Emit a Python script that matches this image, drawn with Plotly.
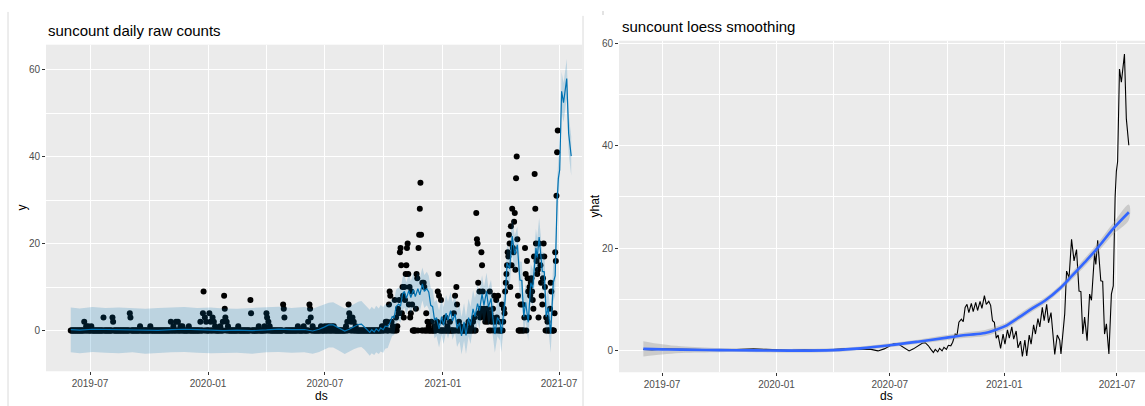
import pandas as pd
import plotly.graph_objects as go

W, H = 1145, 406

# ---------------- data ----------------
yhat_dates = [
    "2019-06-01", "2019-06-15", "2019-07-05", "2019-07-25", "2019-08-15", "2019-09-05", "2019-09-25",
    "2019-10-15", "2019-11-05", "2019-11-25", "2019-12-15", "2020-01-05", "2020-01-25", "2020-02-15",
    "2020-03-10", "2020-04-01", "2020-04-20", "2020-05-10", "2020-05-30", "2020-06-12", "2020-06-22",
    "2020-06-30", "2020-07-07", "2020-07-14", "2020-07-22", "2020-08-01", "2020-08-08", "2020-08-15",
    "2020-08-22", "2020-08-27", "2020-09-01", "2020-09-05", "2020-09-09", "2020-09-12", "2020-09-16",
    "2020-09-19", "2020-09-23", "2020-09-26", "2020-09-30", "2020-10-03", "2020-10-07", "2020-10-10",
    "2020-10-14", "2020-10-17", "2020-10-20", "2020-10-24", "2020-10-27", "2020-10-30", "2020-11-02",
    "2020-11-05", "2020-11-09", "2020-11-12", "2020-11-16", "2020-11-19", "2020-11-23", "2020-11-26",
    "2020-11-30", "2020-12-03", "2020-12-07", "2020-12-10", "2020-12-13", "2020-12-16", "2020-12-19",
    "2020-12-22", "2020-12-26", "2020-12-30", "2021-01-02", "2021-01-06", "2021-01-09", "2021-01-13",
    "2021-01-16", "2021-01-20", "2021-01-23", "2021-01-27", "2021-01-30", "2021-02-03", "2021-02-06",
    "2021-02-10", "2021-02-13", "2021-02-17", "2021-02-20", "2021-02-24", "2021-02-27", "2021-03-03",
    "2021-03-06", "2021-03-10", "2021-03-13", "2021-03-17", "2021-03-20", "2021-03-23", "2021-03-27",
    "2021-03-31", "2021-04-02", "2021-04-05", "2021-04-08", "2021-04-11", "2021-04-15", "2021-04-19",
    "2021-04-23", "2021-04-27", "2021-05-01", "2021-05-04", "2021-05-07", "2021-05-10", "2021-05-14",
    "2021-05-18", "2021-05-21", "2021-05-26", "2021-05-28", "2021-05-31", "2021-06-05", "2021-06-08",
    "2021-06-11", "2021-06-14", "2021-06-18", "2021-06-22", "2021-06-25", "2021-06-28", "2021-06-30",
    "2021-07-02", "2021-07-05", "2021-07-08", "2021-07-13", "2021-07-16", "2021-07-20",
]
yhat = [
    0.2, 0.1, 0.3, 0.25, 0.15, 0.1, 0.0,
    0.05, 0.2, 0.3, 0.2, 0.1, 0.0, 0.1,
    0.0, 0.15, 0.35, 0.2, 0.25, -0.1, 0.3,
    0.8, 1.3, 1.3, 0.7, -0.1, 0.3, 0.9,
    1.4, 1.5, 0.9, 0.2, -0.4, 0.2, -0.3,
    0.4, -0.1, 0.6, 0.2, 1.0, 0.9, 1.6,
    3.2, 3.0, 5.5, 6.1, 5.6, 8.4, 9.0,
    7.4, 9.2, 7.6, 9.4, 7.8, 9.6, 8.2,
    10.7, 9.0, 9.6, 8.8, 5.8, 5.5, 2.4,
    3.0, 0.4, 3.2, 1.2, 4.0, 2.4, 4.6,
    2.2, 3.8, 0.5, 1.8, -1.2, 2.0, -1.1,
    3.0, 1.2, 5.0, 3.2, 6.2, 4.6, 8.4,
    5.8, 9.0, 5.4, 7.4, 2.8, -0.8, 3.0,
    2.0, -0.7, 4.0, 7.1, 15.5, 14.2, 21.7,
    17.5, 19.7, 11.6, 11.5, 3.2, 6.5, 1.9,
    11.0, 9.8, 19.0, 16.8, 21.5, 13.6, 13.5,
    3.2, 5.2, -0.7, 11.0, 12.6, 30.0, 35.0,
    36.9, 55.0, 52.4, 57.9, 45.3, 40.1,
]
yhat_lower = [
    -5.0, -5.2, -4.9, -5.1, -5.2, -5.0, -5.3,
    -5.1, -5.0, -4.9, -5.1, -5.2, -5.2, -5.1,
    -5.3, -5.0, -4.9, -5.1, -5.0, -5.3, -4.9,
    -4.4, -3.9, -3.9, -4.5, -5.4, -4.9, -4.3,
    -3.9, -3.8, -4.4, -5.1, -5.8, -5.2, -5.6,
    -5.0, -5.4, -4.8, -5.1, -4.2, -4.0, -3.0,
    -1.2, -1.0, 1.6, 2.3, 1.8, 4.6, 5.3,
    3.7, 5.5, 3.9, 5.6, 4.0, 5.8, 4.4,
    6.9, 5.2, 5.8, 4.9, 1.8, 1.4, -1.8,
    -1.2, -3.9, -1.0, -3.1, -0.3, -1.9, 0.3,
    -2.1, -0.5, -3.8, -2.5, -5.5, -2.3, -5.4,
    -1.3, -3.1, 0.7, -1.1, 1.9, 0.3, 4.1,
    1.5, 4.7, 1.1, 3.1, -1.5, -5.1, -1.3,
    -2.3, -5.0, -0.3, 2.8, 11.2, 9.9, 17.4,
    13.2, 15.4, 7.3, 7.2, -1.1, 2.2, -2.4,
    6.7, 5.5, 14.6, 12.4, 17.1, 9.2, 9.1,
    -1.2, 0.8, -5.1, 6.6, 8.2, 25.5, 30.5,
    32.4, 50.5, 47.9, 53.4, 40.8, 35.6,
]
yhat_upper = [
    5.3, 5.1, 5.4, 5.2, 5.3, 5.1, 5.0,
    5.2, 5.3, 5.4, 5.2, 5.3, 5.1, 5.0,
    5.2, 5.3, 5.5, 5.2, 5.4, 5.0, 5.5,
    6.0, 6.4, 6.5, 5.9, 5.1, 5.5, 6.1,
    6.6, 6.8, 6.0, 5.4, 4.8, 5.5, 4.9,
    5.7, 5.1, 5.9, 5.4, 6.1, 5.8, 6.2,
    7.4, 7.0, 9.4, 9.9, 9.4, 12.2, 12.8,
    11.1, 13.0, 11.4, 13.2, 11.6, 13.4, 12.0,
    14.5, 12.8, 13.5, 12.6, 9.7, 9.5, 6.5,
    7.1, 4.6, 7.3, 5.4, 8.2, 6.6, 8.9,
    6.5, 8.1, 4.8, 6.1, 3.1, 6.3, 3.2,
    7.3, 5.5, 9.3, 7.5, 10.5, 8.9, 12.7,
    10.1, 13.3, 9.7, 11.7, 7.1, 3.5, 7.3,
    6.3, 3.6, 8.3, 11.4, 19.8, 18.5, 26.0,
    21.8, 24.0, 15.9, 15.8, 7.5, 10.8, 6.2,
    15.3, 14.1, 23.4, 21.2, 25.9, 18.0, 17.9,
    7.6, 9.6, 3.7, 15.4, 17.0, 34.5, 39.5,
    41.4, 59.5, 56.9, 62.4, 49.8, 44.6,
]

# observed daily counts: every day in the span is a dot; days not listed below sit at 0
obs_first_day = "2019-06-01"
obs_last_day = "2021-06-29"
nonzero_dates = [
    "2019-06-22", "2019-06-25", "2019-06-28", "2019-07-03", "2019-07-22", "2019-08-05", "2019-08-06",
    "2019-09-01", "2019-09-02", "2019-09-17", "2019-10-03", "2019-11-04", "2019-11-08", "2019-11-12",
    "2019-11-15", "2019-11-19", "2019-11-22", "2019-12-02", "2019-12-20", "2019-12-24", "2019-12-25",
    "2019-12-27", "2019-12-29", "2020-01-03", "2020-01-05", "2020-01-08", "2020-01-10", "2020-01-12",
    "2020-01-20", "2020-01-24", "2020-01-26", "2020-01-27", "2020-01-28", "2020-01-30", "2020-02-01",
    "2020-02-17", "2020-03-07", "2020-03-08", "2020-03-20", "2020-03-29", "2020-04-01", "2020-04-02",
    "2020-04-04", "2020-04-06", "2020-04-27", "2020-04-28", "2020-04-29", "2020-05-20", "2020-05-29",
    "2020-06-05", "2020-06-07", "2020-06-08", "2020-06-09", "2020-06-12", "2020-06-25", "2020-07-01",
    "2020-07-05", "2020-07-08", "2020-07-12", "2020-07-15", "2020-08-03", "2020-08-05", "2020-08-07",
    "2020-08-08", "2020-08-09", "2020-08-11", "2020-08-13", "2020-08-15", "2020-08-18", "2020-09-28",
    "2020-10-01", "2020-10-03", "2020-10-04", "2020-10-06", "2020-10-09", "2020-10-10", "2020-10-11",
    "2020-10-13", "2020-10-15", "2020-10-18", "2020-10-20", "2020-10-22", "2020-10-23", "2020-10-24",
    "2020-10-25", "2020-10-26", "2020-10-27", "2020-10-28", "2020-10-29", "2020-10-30", "2020-10-31",
    "2020-11-01", "2020-11-02", "2020-11-03", "2020-11-04", "2020-11-05", "2020-11-06", "2020-11-07",
    "2020-11-08", "2020-11-09", "2020-11-10", "2020-11-11", "2020-11-12", "2020-11-13", "2020-11-14",
    "2020-11-20", "2020-11-21", "2020-11-22", "2020-11-24", "2020-11-25", "2020-11-26", "2020-11-27",
    "2020-11-28", "2020-11-30", "2020-12-02", "2020-12-03", "2020-12-06", "2020-12-08", "2020-12-10",
    "2020-12-14", "2020-12-19", "2020-12-22", "2020-12-23", "2020-12-24", "2020-12-25", "2020-12-26",
    "2020-12-29", "2021-01-02", "2021-01-05", "2021-01-08", "2021-01-12", "2021-01-18", "2021-01-20",
    "2021-01-22", "2021-01-23", "2021-01-26", "2021-01-28", "2021-02-05", "2021-02-10", "2021-02-14",
    "2021-02-17", "2021-02-19", "2021-02-22", "2021-02-23", "2021-02-24", "2021-02-25", "2021-02-26",
    "2021-02-27", "2021-02-28", "2021-03-01", "2021-03-02", "2021-03-03", "2021-03-04", "2021-03-05",
    "2021-03-06", "2021-03-07", "2021-03-08", "2021-03-09", "2021-03-10", "2021-03-11", "2021-03-12",
    "2021-03-13", "2021-03-15", "2021-03-16", "2021-03-18", "2021-03-19", "2021-03-20", "2021-03-22",
    "2021-03-23", "2021-03-25", "2021-03-26", "2021-03-28", "2021-03-30", "2021-04-03", "2021-04-05",
    "2021-04-06", "2021-04-07", "2021-04-08", "2021-04-09", "2021-04-10", "2021-04-11", "2021-04-12",
    "2021-04-13", "2021-04-14", "2021-04-15", "2021-04-16", "2021-04-17", "2021-04-18", "2021-04-19",
    "2021-04-20", "2021-04-21", "2021-04-22", "2021-04-23", "2021-04-24", "2021-04-25", "2021-04-26",
    "2021-04-27", "2021-04-28", "2021-05-02", "2021-05-05", "2021-05-08", "2021-05-09", "2021-05-10",
    "2021-05-12", "2021-05-13", "2021-05-14", "2021-05-15", "2021-05-16", "2021-05-17", "2021-05-18",
    "2021-05-19", "2021-05-20", "2021-05-21", "2021-05-22", "2021-05-23", "2021-05-24", "2021-05-25",
    "2021-05-26", "2021-05-27", "2021-05-28", "2021-05-29", "2021-05-30", "2021-05-31", "2021-06-01",
    "2021-06-02", "2021-06-03", "2021-06-04", "2021-06-05", "2021-06-06", "2021-06-07", "2021-06-08",
    "2021-06-09", "2021-06-11", "2021-06-13", "2021-06-17", "2021-06-18", "2021-06-19", "2021-06-24",
    "2021-06-25", "2021-06-26", "2021-06-27", "2021-06-28", "2021-06-29",
]
nonzero_counts = [
    2, 1, 1, 1, 3, 3, 2,
    4, 3, 1, 1, 2, 1, 2,
    2, 1, 1, 1, 2, 4, 9,
    3, 2, 4, 2, 3, 2, 1,
    1, 2, 8, 5, 3, 2, 1,
    1, 7, 4, 1, 1, 4, 3,
    2, 1, 6, 5, 3, 1, 1,
    2, 6, 5, 3, 1, 1, 1,
    1, 1, 1, 1, 1, 2, 6,
    4, 3, 2, 3, 2, 1, 1,
    1, 1, 2, 2, 6, 9, 8,
    2, 1, 7, 3, 1, 5, 4,
    7, 18, 19, 15, 4, 10, 8,
    3, 10, 7, 13, 15, 19, 20,
    13, 6, 10, 3, 4, 9, 6,
    5, 13, 12, 19, 22, 28, 34,
    22, 11, 11, 10, 4, 2, 1,
    2, 1, 1, 2, 9, 13, 8,
    7, 2, 3, 1, 2, 4, 8,
    10, 6, 2, 1, 1, 2, 1,
    2, 3, 27, 21, 20, 11, 4,
    9, 3, 5, 18, 15, 9, 4,
    5, 3, 2, 4, 3, 5, 2,
    3, 9, 4, 2, 3, 5, 8,
    2, 7, 3, 8, 2, 6, 2,
    5, 4, 9, 11, 13, 15, 18,
    17, 22, 20, 10, 24, 15, 28,
    19, 18, 25, 27, 14, 35, 40,
    21, 8, 6, 6, 3, 19, 13,
    16, 12, 9, 3, 10, 8, 11,
    12, 9, 7, 5, 17, 36, 28,
    20, 16, 13, 14, 3, 20, 17,
    15, 11, 8, 6, 12, 20, 17,
    10, 3, 2, 5, 11, 9, 4,
    18, 16, 31, 41, 46,
]

loess_dates = [
    "2019-06-01", "2019-07-01", "2019-08-01", "2019-10-01", "2019-12-01", "2020-02-01", "2020-04-01",
    "2020-05-15", "2020-07-01", "2020-08-15", "2020-10-01", "2020-11-01", "2020-12-01", "2020-12-20",
    "2021-01-05", "2021-01-25", "2021-02-15", "2021-03-07", "2021-04-01", "2021-04-20", "2021-05-10",
    "2021-06-01", "2021-06-25", "2021-07-20",
]
loess = [
    0.3, 0.2, 0.15, 0.05, 0.0, -0.05, 0.05,
    0.4, 1.0, 1.7, 2.5, 3.0, 3.4, 4.1,
    4.9, 6.5, 8.2, 9.7, 12.2, 14.6, 17.2,
    20.2, 23.8, 27.0,
]
loess_lower = [
    -1.2, -0.8, -0.5, -0.35, -0.35, -0.4, -0.3,
    0.05, 0.6, 1.3, 2.0, 2.45, 2.8, 3.5,
    4.3, 5.9, 7.6, 9.1, 11.6, 13.9, 16.4,
    19.3, 22.7, 25.5,
]
loess_upper = [
    1.8, 1.2, 0.8, 0.45, 0.35, 0.3, 0.4,
    0.75, 1.4, 2.1, 3.0, 3.55, 4.0, 4.7,
    5.5, 7.1, 8.8, 10.3, 12.8, 15.3, 18.0,
    21.1, 24.9, 28.5,
]

x_tick_vals = ["2019-07-01", "2020-01-01", "2020-07-01", "2021-01-01", "2021-07-01"]
x_tick_text = ["2019-07", "2020-01", "2020-07", "2021-01", "2021-07"]
x_minor_vals = ["2019-10-01", "2020-04-01", "2020-10-01", "2021-04-01"]
y_tick_vals = [0, 20, 40, 60]
y_minor_vals = [10, 30, 50]

left_title = "suncount daily raw counts"
right_title = "suncount loess smoothing"

# ---------------- build figure ----------------
obs_index = pd.date_range(obs_first_day, obs_last_day, freq="D")
obs = pd.Series(0, index=obs_index, dtype=float)
obs.loc[pd.to_datetime(nonzero_dates)] = nonzero_counts

PROPHET_BLUE = "#0072B2"
FONT = "Liberation Sans, Arial, Helvetica, sans-serif"

fig = go.Figure()

# left panel: points, forecast line, uncertainty ribbon (ggplot draw order)
fig.add_trace(go.Scatter(
    x=obs.index, y=obs.values, mode="markers",
    marker=dict(color="black", size=6, line=dict(width=0)),
    xaxis="x", yaxis="y", showlegend=False, hoverinfo="skip"))
fig.add_trace(go.Scatter(
    x=yhat_dates, y=yhat, mode="lines",
    line=dict(color=PROPHET_BLUE, width=1.2),
    xaxis="x", yaxis="y", showlegend=False, hoverinfo="skip"))
fig.add_trace(go.Scatter(
    x=yhat_dates + yhat_dates[::-1], y=yhat_upper + yhat_lower[::-1],
    mode="lines", fill="toself", fillcolor="rgba(0,114,178,0.2)",
    line=dict(width=0), xaxis="x", yaxis="y", showlegend=False, hoverinfo="skip"))

# right panel: forecast line, loess ribbon, loess line
fig.add_trace(go.Scatter(
    x=yhat_dates, y=yhat, mode="lines",
    line=dict(color="black", width=1.1),
    xaxis="x2", yaxis="y2", showlegend=False, hoverinfo="skip"))
fig.add_trace(go.Scatter(
    x=loess_dates + loess_dates[::-1], y=loess_upper + loess_lower[::-1],
    mode="lines", fill="toself", fillcolor="rgba(153,153,153,0.4)",
    line=dict(width=0, shape="spline"), xaxis="x2", yaxis="y2",
    showlegend=False, hoverinfo="skip"))
fig.add_trace(go.Scatter(
    x=loess_dates, y=loess, mode="lines",
    line=dict(color="#3366FF", width=2.6, shape="spline"),
    xaxis="x2", yaxis="y2", showlegend=False, hoverinfo="skip"))


def px_x(p):
    return p / W


def px_y(p):
    return 1 - p / H


tick_font = dict(family=FONT, size=10, color="#4D4D4D")


def xaxis_cfg(domain, rng, anchor):
    return dict(
        domain=domain, range=rng, type="date", anchor=anchor,
        tickmode="array", tickvals=x_tick_vals, ticktext=x_tick_text,
        ticks="outside", ticklen=3, tickwidth=1, tickcolor="#333333",
        tickfont=tick_font, showgrid=True, gridcolor="white", gridwidth=1.3,
        zeroline=False, showline=False,
        minor=dict(tickmode="array", tickvals=x_minor_vals, showgrid=True,
                   gridcolor="white", gridwidth=0.6, ticks=""),
    )


def yaxis_cfg(domain, rng, anchor):
    return dict(
        domain=domain, range=rng, anchor=anchor,
        tickmode="array", tickvals=y_tick_vals,
        ticks="outside", ticklen=3, tickwidth=1, tickcolor="#333333",
        tickfont=tick_font, showgrid=True, gridcolor="white", gridwidth=1.3,
        zeroline=False, showline=False,
        minor=dict(tickmode="array", tickvals=y_minor_vals, showgrid=True,
                   gridcolor="white", gridwidth=0.6, ticks=""),
    )


fig.update_layout(
    width=W, height=H,
    margin=dict(l=0, r=0, t=0, b=0),
    paper_bgcolor="white", plot_bgcolor="#EBEBEB",
    font=dict(family=FONT),
    xaxis=xaxis_cfg([px_x(46), px_x(582)], ["2019-04-23 10:00", "2021-08-05 19:00"], "y"),
    yaxis=yaxis_cfg([px_y(371), px_y(42)], [-9.35, 65.7], "x"),
    xaxis2=xaxis_cfg([px_x(619), 1.0], ["2019-04-22 22:00", "2021-08-15 00:00"], "y2"),
    yaxis2=yaxis_cfg([px_y(372), px_y(38)], [-4.27, 60.52], "x2"),
)

annotations = [
    dict(text=left_title, x=px_x(46), y=px_y(28), xanchor="left", yanchor="middle",
         font=dict(family=FONT, size=15, color="black")),
    dict(text=right_title, x=px_x(620), y=px_y(24), xanchor="left", yanchor="middle",
         font=dict(family=FONT, size=15, color="black")),
    dict(text="ds", x=px_x(321), y=px_y(396), xanchor="center", yanchor="middle",
         font=dict(family=FONT, size=12, color="black")),
    dict(text="ds", x=px_x(886), y=px_y(396), xanchor="center", yanchor="middle",
         font=dict(family=FONT, size=12, color="black")),
    dict(text="y", x=px_x(22), y=px_y(206), xanchor="center", yanchor="middle", textangle=-90,
         font=dict(family=FONT, size=12, color="black")),
    dict(text="yhat", x=px_x(595), y=px_y(205), xanchor="center", yanchor="middle", textangle=-90,
         font=dict(family=FONT, size=12, color="black")),
]
for a in annotations:
    a.update(xref="paper", yref="paper", showarrow=False)
fig.update_layout(annotations=annotations)

shapes = [
    dict(type="line", x0=px_x(8), x1=px_x(8), y0=px_y(9), y1=0, line=dict(color="#DADADA", width=1)),
    dict(type="line", x0=px_x(583), x1=px_x(583), y0=px_y(13), y1=0, line=dict(color="#DADADA", width=1)),
    dict(type="line", x0=px_x(603), x1=px_x(603), y0=px_y(8), y1=px_y(12), line=dict(color="#DADADA", width=1.5)),
]
for s in shapes:
    s.update(xref="paper", yref="paper", layer="above")
fig.update_layout(shapes=shapes)

fig.write_html("out.html")
